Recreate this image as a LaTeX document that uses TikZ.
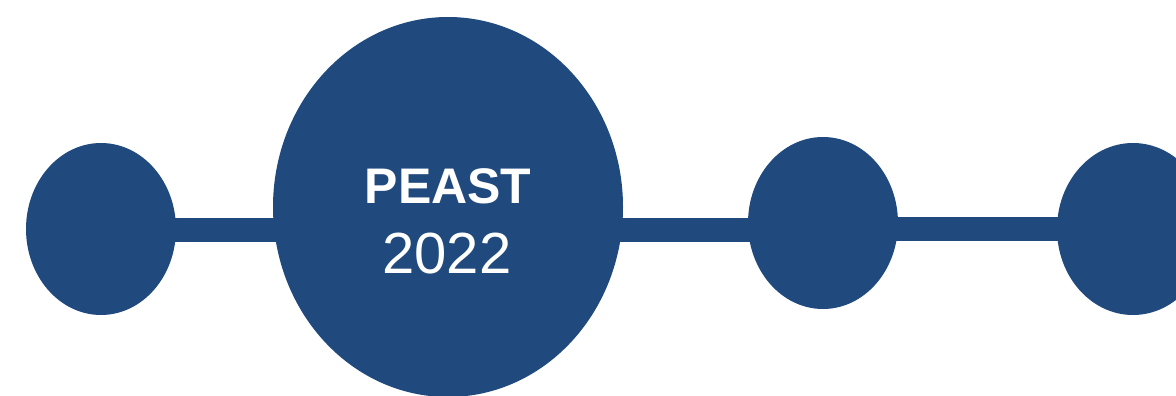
\documentclass[tikz,border=0pt]{standalone}
\usepackage{fontspec}
\setmainfont{Liberation Sans}
\usetikzlibrary{shapes.geometric}
\definecolor{navy}{HTML}{204A7E}
\begin{document}
\begin{tikzpicture}[x=1pt,y=-1pt,
  dot/.style={ellipse,fill=navy,draw=none,inner sep=0pt},
  bar/.style={line width=24pt,navy}]
\useasboundingbox (0,0) rectangle (1176,396);
\begin{scope}
\clip (0,0) rectangle (1176,396);
\coordinate (c1) at (101,229);
\coordinate (c2) at (448,207);
\coordinate (c3) at (823,223);
\coordinate (c4) at (1133,229);
\coordinate (b1l) at (150,230);
\coordinate (b1r) at (300,230);
\coordinate (b2l) at (600,230);
\coordinate (b2r) at (780,230);
\coordinate (b3l) at (870,229);
\coordinate (b3r) at (1090,229);
\draw[bar] (b1l) -- (b1r);
\draw[bar] (b2l) -- (b2r);
\draw[bar] (b3l) -- (b3r);
\node[dot,minimum width=150pt,minimum height=172pt] (e1) at (c1) {};
\node[dot,minimum width=350pt,minimum height=380pt] (e2) at (c2) {};
\node[dot,minimum width=150pt,minimum height=172pt] (e3) at (c3) {};
\node[dot,minimum width=152pt,minimum height=172pt] (e4) at (c4) {};
\node[text=white,font=\fontsize{50}{50}\selectfont\bfseries,anchor=base] (t1) at (448,203) {PEAST};
\node[text=white,font=\fontsize{58}{58}\selectfont,anchor=base] (t2) at (447,273) {2022};
\end{scope}
\end{tikzpicture}
\end{document}
